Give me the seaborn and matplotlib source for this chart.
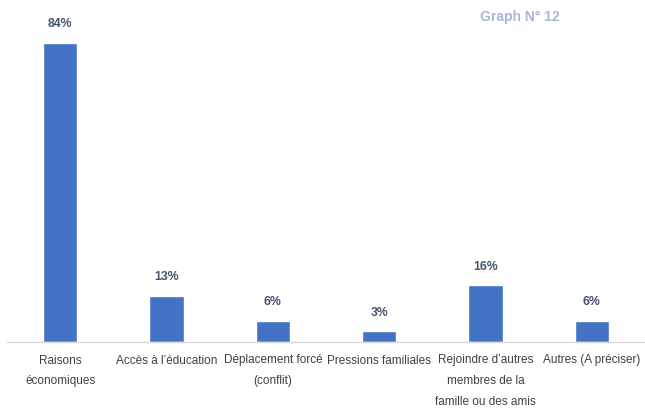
import matplotlib
matplotlib.use('Agg')
import matplotlib.pyplot as plt
import seaborn as sns
import pandas as pd

# Données
categories = ['Raisons\néconomiques', 'Accès à l’éducation', 'Déplacement forcé\n(conflit)',
              'Pressions familiales', 'Rejoindre d’autres\nmembres de la\nfamille ou des amis',
              'Autres (A préciser)']
values = [84, 13, 6, 3, 16, 6]
labels = ['84%', '13%', '6%', '3%', '16%', '6%']

df = pd.DataFrame({'cat': categories, 'val': values})

sns.set_style('white')
plt.rcParams['font.family'] = ['Liberation Sans', 'DejaVu Sans']

fig = plt.figure(figsize=(6.45, 4.12), dpi=100)
ax = fig.add_axes([7 / 645, 70 / 412, 638 / 645, 342 / 412])

sns.barplot(x='cat', y='val', data=df, color='#4472C4', width=0.32, ax=ax, saturation=1)

ax.set_ylim(0, 96)
ax.set_xlim(-0.5, 5.5)
for i, v in enumerate(values):
    ax.text(i, v + 3.5, labels[i], ha='center', va='bottom', fontsize=8.8,
            fontweight='bold', color='#44546A')

ax.set_xlabel('')
ax.set_ylabel('')
ax.set_yticks([])
ax.tick_params(axis='x', length=0, pad=9, labelsize=8.5, labelcolor='#404040')
for lbl in ax.get_xticklabels():
    lbl.set_linespacing(1.95)
for s in ['top', 'right', 'left']:
    ax.spines[s].set_visible(False)
ax.spines['bottom'].set_color('#D9D9D9')
ax.spines['bottom'].set_linewidth(1)

fig.text(520 / 645, 1 - 17 / 412, 'Graph N° 12', ha='center', va='center',
         fontsize=10, fontweight='bold', color='#A9B4D9')

fig.savefig('out.png', dpi=100)
plt.close()
